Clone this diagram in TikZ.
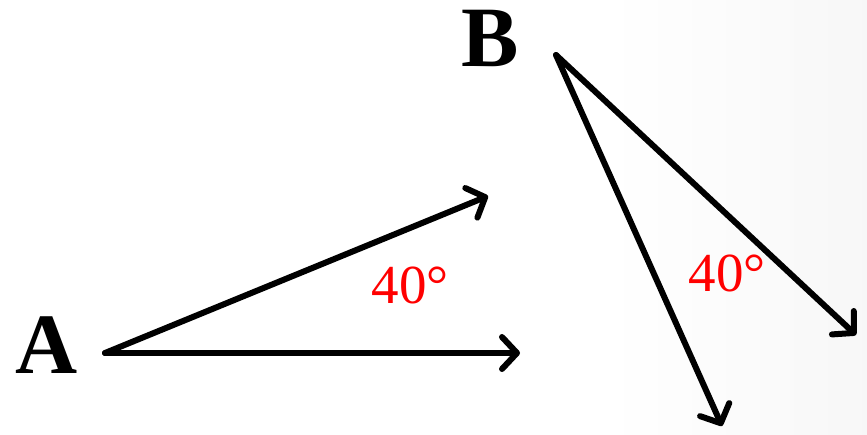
\documentclass[tikz,border=0pt]{standalone}
\usepackage{fontspec}
\setmainfont{Liberation Serif}
\usetikzlibrary{arrows.meta}
\pgfdeclarehorizontalshading{bgshade}{100bp}{color(0bp)=(white); color(60bp)=(white); color(100bp)=(black!8)}
\begin{document}
\begin{tikzpicture}[x=1pt,y=-1pt,
  vec/.style={line width=6pt, line cap=round, -{Straight Barb[length=15pt,width=32pt,line width=6pt,round]}},
  ptlabel/.style={font=\fontsize{86}{86}\selectfont\bfseries, inner sep=0pt},
  anglabel/.style={font=\fontsize{55}{55}\selectfont, text=red, inner sep=0pt}]
\useasboundingbox (0,0) rectangle (867,434);
\shade[shading=bgshade] (0,0) rectangle (867,434);
\coordinate (A) at (105,353);
\coordinate (A1) at (520,353);
\coordinate (A2) at (488,196);
\coordinate (B) at (556,55);
\coordinate (B1) at (856,335);
\coordinate (B2) at (722,426);
\draw[vec] (A) -- (A1);
\draw[vec] (A) -- (A2);
\draw[vec] (B) -- (B1);
\draw[vec] (B) -- (B2);
\node[ptlabel] (la) at (47,345) {A};
\node[ptlabel] (lb) at (490,38) {B};
\node[anglabel] (ang1) at (410,285) {40°};
\node[anglabel] (ang2) at (727,273) {40°};
\end{tikzpicture}
\end{document}
